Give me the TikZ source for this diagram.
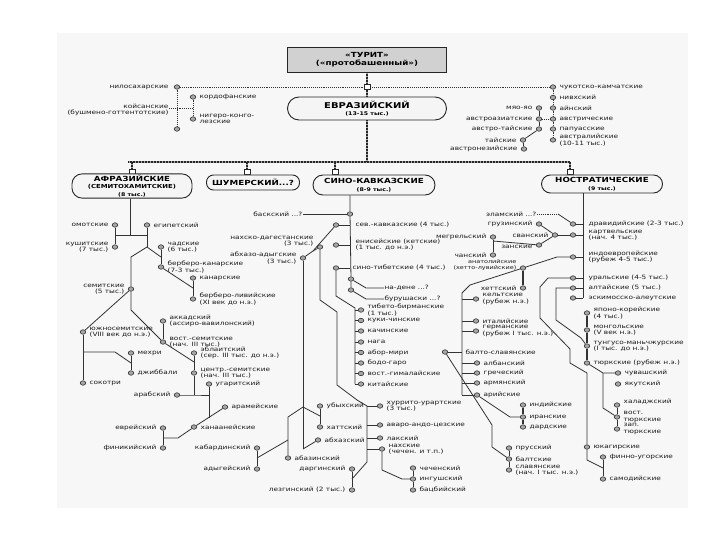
\documentclass[tikz,border=0pt]{standalone}
\usepackage{fontspec}
\usepackage{tikz}
\usetikzlibrary{positioning,shapes.geometric}
\newfontfamily\lblfont[FakeStretch=1.25]{DejaVu Sans}
\newcommand{\leafR}[4][]{\node[lang] (#2) at (#3) {}; \node[lbl,align=left,right=3pt of #2,#1] (#2t) {#4};}
\newcommand{\leafL}[4][]{\node[lang] (#2) at (#3) {}; \node[lbl,align=right,left=3pt of #2,#1] (#2t) {#4};}

\begin{document}
\begin{tikzpicture}[x=1pt,y=-1pt,
  lbl/.style={font=\lblfont\fontsize{5.9}{6.3}\selectfont,inner sep=0.4pt,text=black!90},
  lang/.style={ellipse,draw=black!85,fill=black!35,line width=0.6pt,minimum width=5.5pt,minimum height=4.5pt,inner sep=0pt},
  conn/.style={draw=black!80,line width=0.8pt},
  dotline/.style={draw=black!80,line width=0.9pt,densely dotted},
  ladder/.style={preaction={draw=black!35,solid,line width=#1},draw=black!85,line width=#1,dash pattern=on 0.8pt off 0.7pt},
  ladder/.default=2.4pt,
  sq/.style={rectangle,draw=black!85,fill=white,line width=0.8pt,minimum width=6pt,minimum height=5pt,inner sep=0pt},
  grp/.style={rectangle,draw=black!85,line width=0.9pt,fill=black!4,align=center,inner sep=1pt,font=\lblfont\bfseries\fontsize{7}{7.5}\selectfont}]
\useasboundingbox (0,0) rectangle (720,540);
\fill[black!3] (57,33) rectangle (688,508);

\node[rectangle,draw=black!85,line width=0.9pt,fill=black!18,minimum width=159pt,minimum height=25pt,align=center,inner sep=1pt,font=\lblfont\bfseries\fontsize{7}{8}\selectfont] (turit) at (367,59.5) {«ТУРИТ»\\(«протобашенный»)};
\node[grp,minimum width=159pt,minimum height=23pt,rounded corners=11.5pt] (evraz) at (367,108.5) {{\fontsize{8}{8.5}\selectfont ЕВРАЗИЙСКИЙ}\\{\fontsize{5}{5.5}\selectfont (13-15 тыс.)}};
\node[sq] (sq0) at (367,87) {};
\draw[ladder=1.6pt] (turit) -- (sq0);
\draw[ladder=1.6pt] (sq0) -- (evraz);

\leafL[left=5pt of nilo]{nilo}{177,87}{нилосахарские}
\node[lang] (khoi) at (177,129) {};
\node[lbl,align=right,anchor=east] (khoit) at (169,110) {койсанские\\(бушмено-готтентотские)};
\draw[dotline] (nilo) -- (khoi);
\leafR{kordo}{193,97}{кордофанские}
\leafR{niger}{193,119}{нигеро-конго-\\лезские}
\draw[dotline] (kordo) -- (niger);
\coordinate (nk) at (193,108);
\draw[dotline] (khoit.east |- nk) -- (nk);

\leafR{chuk}{553,87}{чукотско-камчатские}
\leafR{nivkh}{553,97.5}{нивхский}
\leafR{ainu}{553,108}{айнский}
\leafR{austric}{553,119}{австрические}
\leafR{papua}{553,129}{папуасские}
\leafR{austral}{553,140}{австралийские\\(10-11 тыс.)}
\draw[dotline] (chuk) -- (nivkh) -- (ainu) -- (austric) -- (papua) -- (austral);
\draw[dotline] (nilo) -- (sq0);
\draw[dotline] (sq0) -- (chuk);
\leafL{miao}{539,108}{мяо-яо}
\leafL{austas}{539,119}{австроазиатские}
\leafL{austai}{539,129}{австро-тайские}
\draw[conn] (miao) -- (austas) -- (austai);
\draw[dotline] (austas) -- (austric);
\leafL{tai}{523,140}{тайские}
\leafL{austron}{524,149}{австронезийские}
\draw[conn] (austai) -- (tai) -- (austron);

\coordinate (barL) at (128,162);
\coordinate (barR) at (570,162);
\draw[ladder] (barL) -- (barR);
\draw[ladder] (evraz) -- (evraz |- barL);
\node[sq] (sq1) at (132,172) {};
\node[sq] (sq2) at (247,172) {};
\node[sq] (sq3) at (335,172) {};
\node[sq] (sq4) at (570,172) {};
\foreach \s in {sq1,sq2,sq3,sq4} \draw[ladder=1.6pt] (\s |- barL) -- (\s);

\node[grp,minimum width=120pt,minimum height=22pt,rounded corners=10pt] (afro) at (132,186) {АФРАЗИЙСКИЕ\\{\fontsize{5.5}{5.5}\selectfont (СЕМИТОХАМИТСКИЕ)}\\{\fontsize{5}{5.5}\selectfont (8 тыс.)}};
\node[grp,minimum width=93pt,minimum height=15pt,rounded corners=7pt] (shum) at (253,182.5) {ШУМЕРСКИЙ...?};
\node[grp,minimum width=122pt,minimum height=20pt,rounded corners=10pt] (sino) at (374,185) {СИНО-КАВКАЗСКИЕ\\{\fontsize{5}{5.5}\selectfont (8-9 тыс.)}};
\node[grp,minimum width=121pt,minimum height=18pt,rounded corners=9pt] (nostr) at (602,184) {НОСТРАТИЧЕСКИЕ\\{\fontsize{5}{5.5}\selectfont (9 тыс.)}};

\coordinate (afj) at (130,235);
\draw[conn] (afro.south -| afj) -- (afj);
\leafL{omot}{115,225}{омотские}
\leafL{kush}{115,247}{кушитские\\(7 тыс.)}
\leafR{egyp}{147,225}{египетский}
\draw[conn] (omot) -- (kush);
\draw[conn] (omot |- afj) -- (egyp |- afj);
\coordinate (afj2) at (147,247);
\draw[conn] (egyp) -- (afj2);
\leafR{chad}{161,247}{чадские\\(6 тыс.)}
\leafR{berbk}{161,267}{берберо-канарские\\(7-3 тыс.)}
\draw[conn] (chad) -- (berbk);
\draw[conn] (afj2) -- (chad |- 0,257);
\leafL{semit}{131,289}{семитские\\(5 тыс.)}
\draw[conn] (afj2) -- (131,257) -- (semit);
\leafR{kanar}{193,278}{канарские}
\leafR{berbl}{193,299}{берберо-ливийские\\(XI век до н.э.)}
\draw[conn] (kanar) -- (berbl);
\draw[conn] (berbk) -- (kanar |- 0,288);

\leafR{ssem}{83,332}{южносемитские\\(VIII век до н.э.)}
\draw[conn] (semit) -- (ssem);
\leafR{socot}{83,383}{сокотри}
\draw[conn] (ssem) -- (socot);
\leafR{mehri}{131,353}{мехри}
\leafR{jibb}{131,373}{джиббали}
\draw[conn] (mehri) -- (jibb);
\draw[conn] (ssem |- 0,352) -- (115,352) -- (mehri |- 0,363);
\leafR{akkad}{163,321}{аккадский\\(ассиро-вавилонский)}
\leafR{esem}{163,342}{вост.-семитские\\(нач. III тыс.)}
\draw[conn] (akkad) -- (esem);
\draw[conn] (semit) -- (131,310) -- (esem);
\leafR{ebla}{194,353}{эблаитский\\(сер. III тыс. до н.э.)}
\leafR{csem}{194,373}{центр.-семитские\\(нач. III тыс.)}
\coordinate (cj) at (194,395);
\draw[conn] (ebla) -- (csem) -- (cj);
\draw[conn] (esem) -- (ebla |- 0,362);
\leafL{arab}{177,395}{арабский}
\leafR{ugar}{209,384}{угаритский}
\draw[conn] (arab) -- (cj) -- (ugar |- cj);
\draw[conn] (ugar) -- (ugar |- 0,418);
\leafR{aram}{225,407}{арамейские}
\leafR{hanaan}{194,427}{ханаанейские}
\leafL{evr}{163,428}{еврейский}
\leafL{phoen}{163,448}{финикийский}
\draw[conn] (aram) -- (hanaan) -- (178,438) -- (phoen |- 0,438);
\draw[conn] (evr) -- (phoen);

\node[lang] (bask) at (350,214) {};
\node[lbl,anchor=east] (baskt) at (303,214) {баскский ...?};
\draw[conn] (baskt) -- (bask);
\node[lang] (nadene) at (351,279) {};
\node[lang] (burush) at (351,290) {};
\draw[conn] (sino.south -| bask) -- (bask) -- (nadene) -- (burush);
\node[lbl,anchor=west] (nadenet) at (384,288) {на-дене ...?};
\node[lbl,anchor=west] (burusht) at (384,299) {бурушаски ...?};
\draw[conn] (nadene) -- (366,288) -- (nadenet);
\draw[conn] (burush) -- (366,299) -- (burusht);
\leafR[right=16pt of skav]{skav}{336,225}{сев.-кавказские (4 тыс.)}
\leafR[right=16pt of enis]{enis}{336,245}{енисейские (кетские)\\(1 тыс. до н.э.)}
\leafR[right=13pt of sinotib]{sinotib}{336,268}{сино-тибетские (4 тыс.)}
\foreach \n in {skav,enis,sinotib} \draw[conn] (\n) -- (\n -| bask);
\leafL[yshift=6pt]{nd}{320,247}{нахско-дагестанские\\(3 тыс.)}
\leafL{aa}{303,258}{абхазо-адыгские\\(3 тыс.)}
\coordinate (ncj) at (313,251);
\draw[conn] (skav) -- (ncj) -- (aa);
\draw[conn] (ncj) -- (nd);

\coordinate (dg) at (367,406);
\draw[conn] (nd) -- (320,300) -- (337,312) -- (337,385) -- (357,400) -- (dg) -- (367,462) -- (352,479);
\leafR{hurr}{380,406}{хуррито-урартские\\(3 тыс.)}
\leafR{avar}{380,425}{аваро-андо-цезские}
\leafR{lak}{380,438}{лакский}
\leafR{nakh}{382,449}{нахские\\(чечен. и т.п.)}
\foreach \n in {hurr,avar,lak,nakh} \draw[conn] (\n) -- (\n -| dg);
\leafL{darg}{352,469}{даргинский}
\leafL{lezg}{352,490}{лезгинский (2 тыс.)}
\draw[conn] (darg) -- (lezg);
\leafR{chech}{413,468}{чеченский}
\leafR{ingush}{413,479}{ингушский}
\leafR{batsb}{413,490}{бацбийский}
\draw[conn] (chech) -- (ingush) -- (batsb);
\draw[conn] (nakh) -- (382,470) -- (402,479) -- (ingush);

\coordinate (aj) at (303,407);
\coordinate (abkj) at (303,449);
\draw[conn] (aa) -- (abkj);
\leafR{ubykh}{320,406}{убыхский}
\leafR{hatt}{320,427}{хаттский}
\draw[conn] (ubykh) -- (hatt);
\draw[conn] (aj) -- (ubykh |- 0,416);
\leafR{abkhaz}{318,440}{абхазский}
\draw[conn] (abkj) -- (abkhaz);
\leafR{abaza}{288,458}{абазинский}
\coordinate (kj) at (288,440);
\draw[conn] (aj) -- (288,417) -- (kj) -- (abaza);
\leafL{kabard}{257,448}{кабардинский}
\leafL{adyg}{257,469}{адыгейский}
\draw[conn] (kabard) -- (adyg);
\draw[conn] (kj) -- (kabard |- 0,458);

\coordinate (stj) at (355,308);
\draw[conn] (sinotib) -- (336,296) -- (stj) -- (355,384);
\foreach \n/\y/\txt in {tb/310/{тибето-бирманские\\(1 тыс.)},kuki/320.5/{куки-чинские},kach/331/{качинские},naga/342/{нага},abor/352.5/{абор-мири},bodo/363/{бодо-гаро},himal/373.5/{вост.-гималайские},chin/384/{китайские}}
{\leafR{\n}{361,\y}{\txt} \draw[conn] (\n) -- (\n -| stj);}

\coordinate (nt) at (583,298);
\draw[conn] (nostr.south -| nt) -- (nt);
\foreach \n/\y/\txt in {drav/224/{дравидийские (2-3 тыс.)},kartv/235/{картвельские\\(нач. 4 тыс.)},ie/257/{индоевропейские\\(рубеж 4-5 тыс.)},ural/278/{уральские (4-5 тыс.)},alt/288/{алтайские (5 тыс.)},eskimo/298/{эскимосско-алеутские}}
{\leafR[right=12pt of \n]{\n}{573,\y}{\txt} \draw[conn] (\n) -- (\n -| nt);}
\node[lbl,anchor=east] (elamt) at (537,214) {эламский ...?};
\coordinate (elj) at (558,214);
\draw[dotline,line width=0.6pt] (elamt) -- (elj);
\draw[conn] (elj) -- (drav);

\leafL{svan}{555,235}{сванский}
\leafL{gruz}{539,224}{грузинский}
\leafL[yshift=-2pt]{zan}{539,245}{занские}
\leafL{megr}{493,237}{мегрельский}
\leafL{chan}{493,255}{чанский}
\draw[conn] (kartv) -- (svan);
\draw[conn] (svan) -- (gruz);
\draw[conn] (svan) -- (zan);
\draw[conn] (megr) -- (chan);
\draw[conn] (zan) -- (megr |- 0,241);

\coordinate (iet) at (462,300);
\leafL[yshift=3pt,font=\lblfont\fontsize{5.2}{5.8}\selectfont]{anat}{523,268}{анатолийские\\(хетто-лувийские)}
\leafL{hitt}{523,288}{хеттский}
\draw[conn] (ie) -- (557,257) -- (anat) -- (470,285) -- (462,293) -- (462,395);
\draw[conn,line width=1.6pt] (anat) -- (hitt);
\leafR{celt}{476,299}{кельтские\\(рубеж н.э.)}
\leafR{ital}{476,321}{италийские}
\leafR{germ}{476,331}{германские\\(рубеж I тыс. н.э.)}
\leafR{alb}{477,363}{албанский}
\leafR{greek}{477,373}{греческий}
\leafR{armen}{477,383}{армянский}
\leafR{arii}{477,395}{арийские}
\foreach \n in {celt,ital,germ,alb,greek,armen,arii} \draw[conn] (\n) -- (\n -| iet);
\leafR[right=17pt of bsl]{bsl}{445,352}{балто-славянские}
\draw[conn] (bsl) -- (bsl -| iet);
\leafR{ind}{523,405}{индийские}
\leafR{ir}{523,417}{иранские}
\leafR{dard}{523,427}{дардские}
\draw[conn,line width=1.4pt] (ind) -- (ir) -- (dard);
\draw[conn] (arii) -- (510,417) -- (ir);
\leafR{prus}{509,448}{прусский}
\leafR{balt}{509,459}{балтские}
\leafR{slav}{509,470}{славянские\\(нач. I тыс. н.э.)}
\draw[conn] (prus) -- (balt) -- (slav);
\draw[conn] (bsl) -- (492,425) -- (492,447) -- (balt);

\leafR{japk}{587,313}{японо-корейские\\(4 тыс.)}
\leafR{mong}{587,330}{монгольские\\(V век н.э.)}
\leafR{tung}{587,346}{тунгусо-маньчжурские\\(I тыс. до н.э.)}
\leafR{turk}{587,363}{тюркские (рубеж н.э.)}
\draw[conn,line width=1.4pt] (japk) -- (mong) -- (tung) -- (turk);
\draw[conn] (alt) -- (556,288) -- (556,320) -- (581,338) -- (tung);
\leafR{yukag}{587,447}{юкагирские}
\draw[conn] (ural) -- (548,278) -- (540,287) -- (540,318) -- (570,349) -- (570,363) -- (587,373) -- (yukag);
\leafR{fu}{603,457}{финно-угорские}
\leafR{samod}{603,479}{самодийские}
\draw[conn] (fu) -- (samod);
\draw[conn] (yukag) -- (587,460) -- (fu |- 0,468);
\leafR{chuv}{618,373}{чувашский}
\leafR{yakut}{618,384}{якутский}
\coordinate (tkj) at (603,373);
\draw[conn] (turk) -- (tkj) -- (chuv);
\leafR[yshift=3pt]{khal}{617,405}{халаджский}
\leafR{vtur}{617,417}{вост.\\тюркские}
\leafR{ztur}{617,429}{зап.\\тюркские}
\draw[conn] (khal) -- (vtur) -- (ztur);
\draw[conn] (tkj) -- (603,408) -- (vtur);
\end{tikzpicture}
\end{document}
